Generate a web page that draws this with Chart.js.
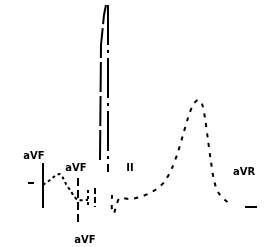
<!DOCTYPE html>
<html>
<head>
<meta charset="utf-8">
<style>
  html, body { margin: 0; padding: 0; background: #fff; }
  #ecg { display: block; }
</style>
<script src="https://cdn.jsdelivr.net/npm/chart.js@4/dist/chart.umd.min.js"></script>
</head>
<body>
<canvas id="ecg" width="270" height="247"></canvas>
<script>
    // Temps en ms, amplitude en mV
    const leadA_t = [129, 129];
    const leadA_v = [0.37, -0.08];
    const leadB_t = [129, 150, 165, 180, 189, 198, 210, 222, 234, 264];
    const leadB_v = [0.15, 0.20, 0.24, 0.26, 0.22, 0.16, 0.10, 0.04, 0.00, 0.00];
    const leadC_t = [234, 234];
    const leadC_v = [0.22, -0.22];
    const leadD_t = [264, 264];
    const leadD_v = [0.10, -0.07];
    const leadE_t = [285, 285];
    const leadE_v = [0.12, -0.07];
    const tick_t = [84, 102];
    const tick_v = [0.17, 0.17];

    // Complexe QRS
    const qrsUp_t = [300, 303, 312, 318];
    const qrsUp_v = [0.40, 1.55, 1.85, 1.95];
    const qrsDown_t = [324, 324];
    const qrsDown_v = [1.95, 0.28];

    // Onde T
    const tWave_t = [336, 336, 342, 351, 360, 390, 420, 450, 474, 495, 516, 534, 549, 564, 579, 594, 606, 615, 624, 633, 642, 654, 675, 696];
    const tWave_v = [0.05, -0.12, -0.13, -0.03, 0.02, 0.01, 0.03, 0.07, 0.12, 0.19, 0.32, 0.48, 0.65, 0.82, 0.95, 1.00, 0.96, 0.82, 0.60, 0.38, 0.20, 0.08, 0.00, -0.05];
    const tail_t = [735, 771];
    const tail_v = [-0.07, -0.07];

    // Étiquettes des dérivations
    const labelText = ['aVF', 'aVF', 'aVF', 'II', 'aVR'];
    const labelT = [102, 228, 255, 390, 732];
    const labelV = [0.44, 0.32, -0.40, 0.32, 0.28];

    function toPoints(t, v) {
        return t.map((x, i) => ({ x: x, y: v[i] }));
    }

    function stroke(t, v, dash, tension) {
        return {
            data: toPoints(t, v),
            borderColor: '#000',
            borderWidth: 2,
            borderDash: dash,
            pointRadius: 0,
            tension: tension || 0,
            fill: false
        };
    }

    // Plugin pour écrire les noms des dérivations
    const leadLabels = {
        id: 'leadLabels',
        afterDatasetsDraw(chart) {
            const ctx = chart.ctx;
            const xs = chart.scales.x;
            const ys = chart.scales.y;
            ctx.save();
            ctx.fillStyle = '#000';
            ctx.font = 'bold 10px "DejaVu Sans"';
            ctx.textAlign = 'center';
            ctx.textBaseline = 'middle';
            labelText.forEach((txt, i) => {
                ctx.fillText(txt, xs.getPixelForValue(labelT[i]), ys.getPixelForValue(labelV[i]));
            });
            ctx.restore();
        }
    };

    new Chart(document.getElementById('ecg'), {
        type: 'line',
        data: {
            datasets: [
                stroke(leadA_t, leadA_v, []),
                stroke(leadB_t, leadB_v, [3, 3], 0.3),
                stroke(leadC_t, leadC_v, [8, 4]),
                stroke(leadD_t, leadD_v, [3, 3]),
                stroke(leadE_t, leadE_v, [6, 3]),
                stroke(tick_t, tick_v, []),
                stroke(qrsUp_t, qrsUp_v, [30, 4]),
                stroke(qrsDown_t, qrsDown_v, [40, 5, 3, 5]),
                stroke(tWave_t, tWave_v, [4, 6], 0.3),
                stroke(tail_t, tail_v, [])
            ]
        },
        options: {
            responsive: false,
            animation: false,
            layout: { padding: 0 },
            plugins: {
                legend: { display: false },
                tooltip: { enabled: false }
            },
            scales: {
                x: { type: 'linear', min: 0, max: 810, display: false },
                y: { type: 'linear', min: -0.47, max: 2.0, display: false }
            }
        },
        plugins: [leadLabels]
    });
</script>
</body>
</html>
